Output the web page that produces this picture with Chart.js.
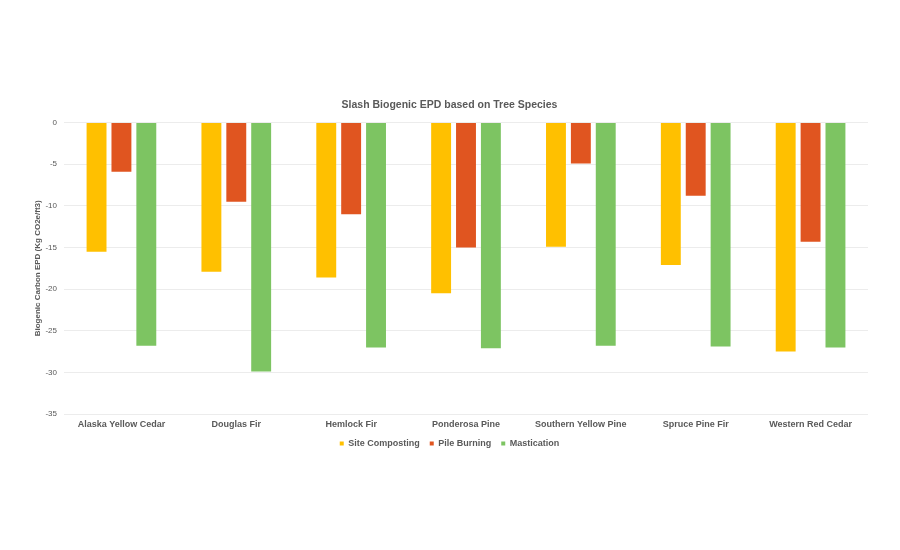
<!DOCTYPE html>
<html lang="en">
<head>
    <meta charset="UTF-8">
    <title>Slash Biogenic EPD based on Tree Species</title>
    <script src="https://cdn.jsdelivr.net/npm/chart.js"></script>
    <style>
        body {
            margin: 0;
            background: #fff;
        }
        #wrap {
            width: 900px;
            height: 550px;
        }
    </style>
</head>
<body>
    <div id="wrap"><canvas id="epdChart"></canvas></div>

    <script>
        const species = ['Alaska Yellow Cedar', 'Douglas Fir', 'Hemlock Fir', 'Ponderosa Pine',
            'Southern Yellow Pine', 'Spruce Pine Fir', 'Western Red Cedar'];
        const siteComposting = [-15.5, -17.9, -18.6, -20.5, -14.9, -17.1, -27.5];
        const pileBurning = [-5.9, -9.5, -11.0, -15.0, -4.9, -8.8, -14.3];
        const mastication = [-26.8, -29.9, -27.0, -27.1, -26.8, -26.9, -27.0];
        const yTicks = [0, -5, -10, -15, -20, -25, -30, -35];

        const textGray = '#595959';
        Chart.defaults.font.family = "'Liberation Sans', Arial, sans-serif";

        new Chart(document.getElementById('epdChart'), {
            type: 'bar',
            data: {
                labels: species,
                datasets: [
                    { label: 'Site Composting', data: siteComposting, backgroundColor: '#ffc000' },
                    { label: 'Pile Burning', data: pileBurning, backgroundColor: '#e05520' },
                    { label: 'Mastication', data: mastication, backgroundColor: '#7dc462' }
                ]
            },
            options: {
                responsive: true,
                maintainAspectRatio: false,
                animation: false,
                layout: { padding: { top: 99, bottom: 92, left: 31, right: 32 } },
                datasets: {
                    bar: { categoryPercentage: 0.65, barPercentage: 0.8 }
                },
                plugins: {
                    title: {
                        display: true,
                        text: 'Slash Biogenic EPD based on Tree Species',
                        color: textGray,
                        font: { size: 10.5, weight: 'bold' },
                        padding: { top: 0, bottom: 11 }
                    },
                    legend: {
                        position: 'bottom',
                        labels: {
                            color: textGray,
                            font: { size: 9, weight: 'bold' },
                            usePointStyle: true,
                            pointStyle: 'rect',
                            boxWidth: 4,
                            boxHeight: 4,
                            padding: 10
                        }
                    },
                    tooltip: { enabled: false }
                },
                scales: {
                    x: {
                        grid: { display: false, drawTicks: false },
                        border: { display: false },
                        // trim the empty space under the labels so the legend sits close
                        afterFit: axis => { axis.height = 15; },
                        ticks: {
                            color: textGray,
                            font: { size: 9, weight: 'bold' },
                            padding: 5,
                            maxRotation: 0,
                            autoSkip: false
                        }
                    },
                    y: {
                        min: yTicks[yTicks.length - 1],
                        max: yTicks[0],
                        afterBuildTicks: axis => {
                            axis.ticks = yTicks.map(v => ({ value: v }));
                        },
                        // narrower axis box: title sits close to the tick labels
                        afterFit: axis => { axis.width = 33; },
                        grid: { color: '#ececec', drawTicks: false },
                        border: { display: false },
                        ticks: {
                            color: textGray,
                            font: { size: 8 },
                            padding: 7
                        },
                        title: {
                            display: true,
                            text: 'Biogenic Carbon EPD (Kg CO2e/ft3)',
                            color: textGray,
                            font: { size: 8, weight: 'bold' },
                            padding: 2
                        }
                    }
                }
            }
        });
    </script>
</body>
</html>
